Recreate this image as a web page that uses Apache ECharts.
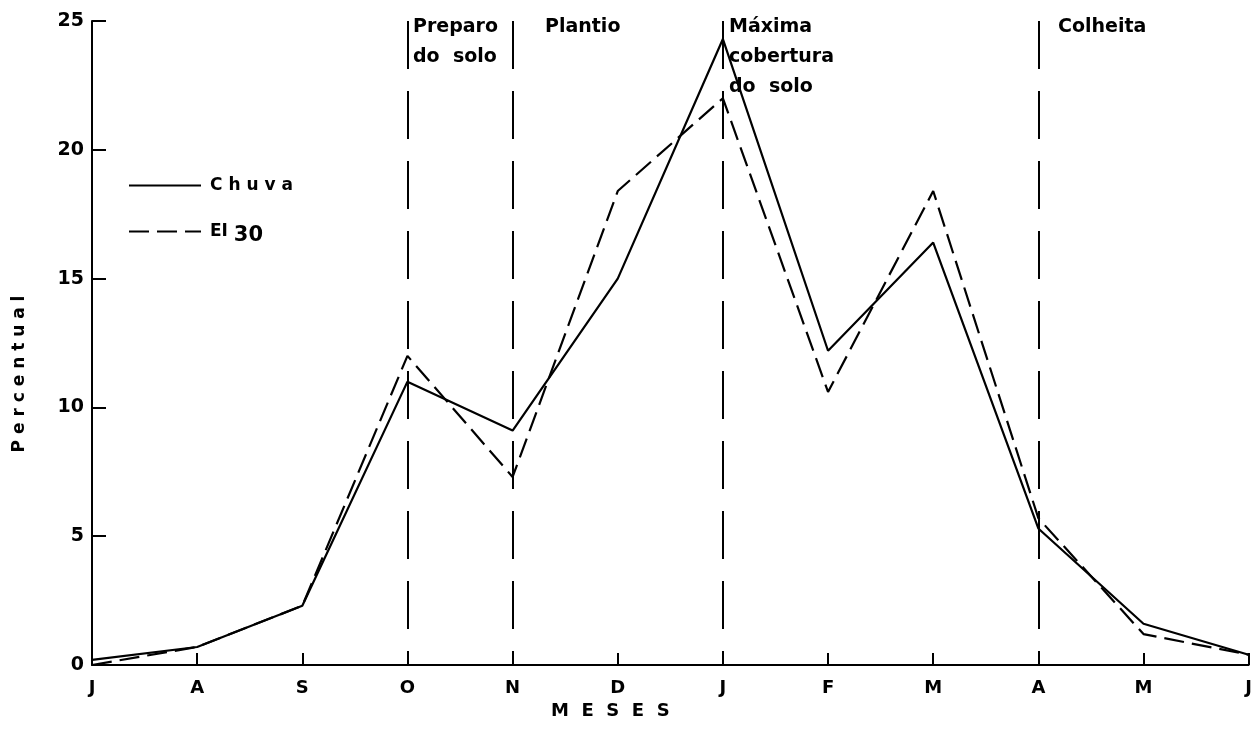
<!DOCTYPE html>
<html><head><meta charset="utf-8">
<script src="https://cdn.jsdelivr.net/npm/echarts@6/dist/echarts.min.js"></script>
<style>html,body{margin:0;padding:0;background:#fff}#c{width:1255px;height:744px}</style>
</head><body><div id="c"></div>
<script>
const months = ['J','A','S','O','N','D','J','F','M','A','M','J'];
const chuva = [0.2, 0.7, 2.3, 11.0, 9.1, 15.0, 24.3, 12.2, 16.4, 5.3, 1.6, 0.4];
const ei30  = [0.0, 0.7, 2.3, 12.0, 7.3, 18.4, 22.0, 10.6, 18.4, 5.7, 1.2, 0.4];
const phaseIdx = [3, 4, 6, 9];
const yTicks = [0, 5, 10, 15, 20, 25];
const FONT = 'DejaVu Sans';
const chart = echarts.init(document.getElementById('c'));
chart.setOption({
  animation: false,
  backgroundColor: '#fff',
  grid: {left: 92, right: 3, top: 21, bottom: 79, containLabel: false},
  legend: {
    orient: 'vertical', left: 128, top: 177, padding: 0, itemGap: 29, itemWidth: 72, itemHeight: 14,
    itemStyle: {opacity: 0, color: 'transparent', borderWidth: 0},
    textStyle: {fontFamily: FONT, fontWeight: 'bold', fontSize: 17, color: '#000', padding: [0,0,0,4],
      rich: {sub: {fontFamily: FONT, fontWeight: 'bold', fontSize: 21, color: '#000', padding: [8,0,0,0]}}},
    formatter: n => n === 'EI30' ? 'EI {sub|30}' : 'C h u v a',
    data: ['Chuva', 'EI30']
  },
  xAxis: {
    type: 'category', data: months, boundaryGap: false,
    name: 'M  E  S  E  S', nameLocation: 'middle', nameGap: 33,
    nameTextStyle: {fontFamily: FONT, fontWeight: 'bold', fontSize: 18, color: '#000', padding: [0, 120, 0, 0]},
    axisLine: {lineStyle: {color: '#000', width: 2}},
    axisTick: {inside: true, length: 12, lineStyle: {color: '#000', width: 2}, alignWithLabel: true},
    axisLabel: {fontFamily: FONT, fontWeight: 'bold', fontSize: 18, color: '#000', margin: 14},
    splitLine: {show: false}
  },
  yAxis: {
    type: 'value', min: 0, max: 25, interval: 5,
    axisLine: {show: true, lineStyle: {color: '#000', width: 2}},
    axisTick: {show: true, inside: true, length: 14, lineStyle: {color: '#000', width: 2}},
    axisLabel: {fontFamily: FONT, fontWeight: 'bold', fontSize: 19, color: '#000', margin: 8,
      formatter: v => yTicks.includes(v) ? String(v) : ''},
    splitLine: {show: false}
  },
  series: [
    {name: 'Chuva', type: 'line', data: chuva, symbol: 'none', showSymbol: false, clip: false,
     lineStyle: {color: '#000', width: 2.2}, itemStyle: {color: '#000'},
     markLine: {silent: true, symbol: 'none', label: {show: false},
       lineStyle: {color: '#000', width: 2, type: [48, 22]},
       data: phaseIdx.map(i => [{xAxis: i, yAxis: 25}, {xAxis: i, yAxis: 0}])}},
    {name: 'EI30', type: 'line', data: ei30, symbol: 'none', showSymbol: false, clip: false,
     lineStyle: {color: '#000', width: 2.2, type: [20, 8]}, itemStyle: {color: '#000'}}
  ],
  graphic: [
    {type: 'text', left: 413, top: 12, style: {text: 'Preparo\ndo  solo', fontFamily: FONT, fontWeight: 'bold', fontSize: 19, lineHeight: 30, fill: '#000'}},
    {type: 'text', left: 545, top: 12, style: {text: 'Plantio', fontFamily: FONT, fontWeight: 'bold', fontSize: 19, lineHeight: 30, fill: '#000'}},
    {type: 'text', left: 729, top: 12, style: {text: 'Máxima\ncobertura\ndo  solo', fontFamily: FONT, fontWeight: 'bold', fontSize: 19, lineHeight: 30, fill: '#000'}},
    {type: 'text', left: 1058, top: 12, style: {text: 'Colheita', fontFamily: FONT, fontWeight: 'bold', fontSize: 19, lineHeight: 30, fill: '#000'}},
    {type: 'text', x: 20, y: 374, rotation: Math.PI / 2, style: {text: 'P e r c e n t u a l', fontFamily: FONT, fontWeight: 'bold', fontSize: 17, fill: '#000', align: 'center', verticalAlign: 'middle'}}
  ]
});
</script></body></html>
